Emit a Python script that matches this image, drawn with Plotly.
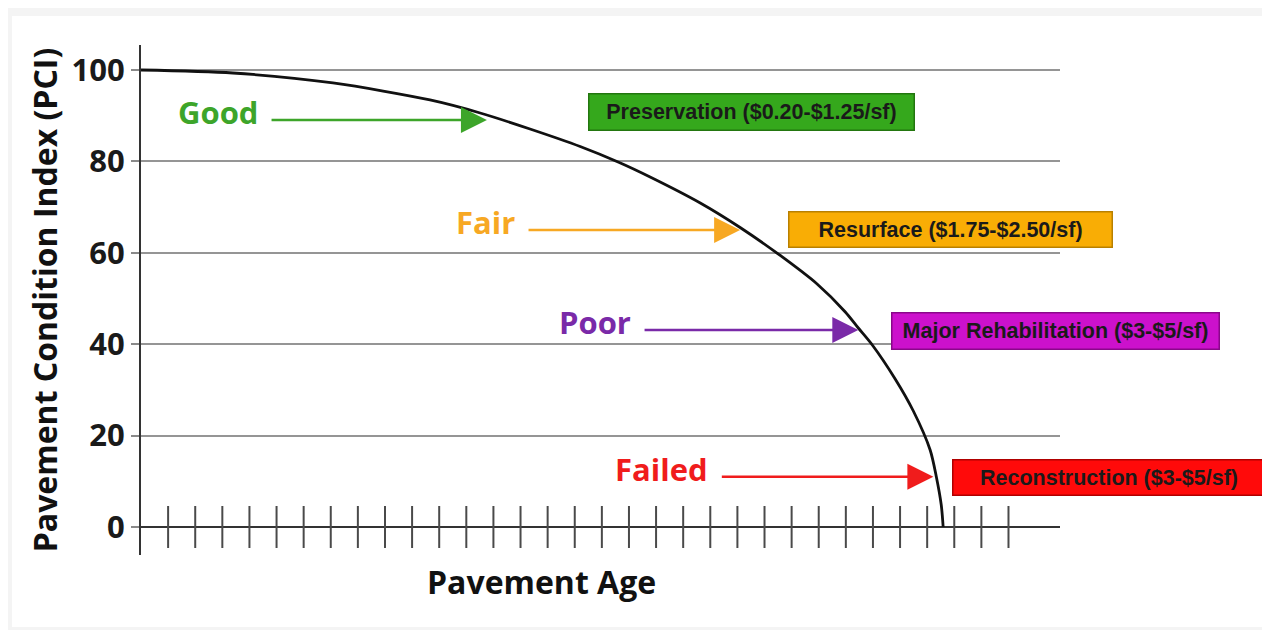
import plotly.graph_objects as go

# ---------------- data ----------------
age = [0, 3.39, 7.08, 10.66, 12.51, 14.35, 16.20, 17.60, 18.78, 20.63, 22.10,
       23.58, 24.94, 25.98, 26.46, 26.97, 27.82, 28.49, 29.11, 29.34, 29.52, 29.59]
pci = [100, 99.34, 97.16, 93.44, 90.59, 87.09, 83.26, 79.87, 76.59, 70.90, 65.54,
       59.41, 53.17, 47.05, 43.54, 39.88, 32.39, 25.38, 16.85, 10.94, 4.81, 0]

y_ticks = [0, 20, 40, 60, 80, 100]
x_ticks = list(range(1, 33))

stages = ["Good", "Fair", "Poor", "Failed"]
stage_colors = ["#3da52a", "#f7a823", "#7a2aa8", "#f01c1c"]
arrow_start_age = [4.76, 14.24, 18.52, 21.37]
arrow_tip_age = [12.76, 22.10, 26.46, 29.23]
arrow_pci = [89.06, 64.99, 43.11, 11.0]

treatments = ["Preservation ($0.20-$1.25/sf)", "Resurface ($1.75-$2.50/sf)",
              "Major Rehabilitation ($3-$5/sf)", "Reconstruction ($3-$5/sf)"]
box_fill = ["#35a81c", "#f9ad05", "#cc11cc", "#ff0a0a"]
box_edge = ["#23760f", "#b98000", "#8a078a", "#b00000"]

# ---------------- layout geometry (screen pixels) ----------------
OFF = 8                      # page body margin
W, H = 1270 - OFF, 630 - OFF
L, R, T, B = 141, 1060, 45, 555


def paper(px, py):
    return (px - L) / (R - L), (B - py) / (B - T)


# box pixel rects: left, top, right, bottom
box_px = [(588, 93, 916, 132), (788, 210, 1114, 248),
          (891, 311, 1221, 350), (952, 458, 1267, 496)]

fig = go.Figure()

# x tick marks crossing the baseline
fig.add_trace(go.Scatter(
    x=x_ticks, y=[0] * len(x_ticks), mode="markers",
    marker=dict(symbol="line-ns", size=30, line=dict(width=2, color="#4a4a4a")),
    hoverinfo="skip", showlegend=False))

# deterioration curve
fig.add_trace(go.Scatter(
    x=age, y=pci, mode="lines",
    line=dict(color="#111111", width=2.8, shape="spline", smoothing=0.8),
    hoverinfo="skip", showlegend=False))

annotations = []
for s, c, a0, a1, p in zip(stages, stage_colors, arrow_start_age, arrow_tip_age, arrow_pci):
    annotations.append(dict(
        x=a1, y=p, ax=a0, ay=p, xref="x", yref="y", axref="x", ayref="y",
        text="", showarrow=True, arrowhead=2, arrowsize=2.0, arrowwidth=2.6,
        arrowcolor=c, standoff=0))
    annotations.append(dict(
        x=a0, y=p, xref="x", yref="y", text=s, showarrow=False,
        xanchor="right", yanchor="middle", xshift=-10, yshift=8,
        font=dict(family="Open Sans", size=31, color=c, weight="bold")))

for t, f, e, (x0, y0, x1, y1) in zip(treatments, box_fill, box_edge, box_px):
    px_, py_ = paper(x0, (y0 + y1) / 2)
    annotations.append(dict(
        x=px_, y=py_, xref="paper", yref="paper", text=t, showarrow=False,
        xanchor="left", yanchor="middle", width=x1 - x0 - 4, height=y1 - y0 - 4,
        bgcolor=f, bordercolor=e, borderwidth=1.5, borderpad=0, align="center",
        font=dict(family="Liberation Sans", size=21.5, color="#1a1a1a", weight="bold")))

# x-axis title
tx, ty = paper(541, 581)
annotations.append(dict(
    x=tx, y=ty, xref="paper", yref="paper", text="Pavement Age", showarrow=False,
    xanchor="center", yanchor="middle",
    font=dict(family="Open Sans", size=32, color="#111111", weight="bold")))

# white card background
cx0, cy0 = paper(12, 16)
cx1, cy1 = paper(1262, 627)
shapes = [dict(type="rect", xref="paper", yref="paper", x0=cx0, y0=cy1, x1=cx1, y1=cy0,
               fillcolor="white", line=dict(width=0), layer="below")]

fig.update_layout(
    width=W, height=H,
    margin=dict(l=L - OFF, r=1270 - R, t=T - OFF, b=630 - B, pad=0),
    paper_bgcolor="#f4f4f4", plot_bgcolor="rgba(0,0,0,0)",
    showlegend=False,
    annotations=annotations, shapes=shapes,
    xaxis=dict(range=[0, 33.9], showgrid=False, zeroline=False, showline=False,
               showticklabels=False, ticks="", fixedrange=True),
    yaxis=dict(range=[-6.13, 105.47], tickvals=y_ticks, ticks="outside", ticklen=8,
               tickwidth=2, tickcolor="#8a8a8a",
               showgrid=True, gridcolor="#959595", gridwidth=2,
               zeroline=True, zerolinecolor="#333333", zerolinewidth=2,
               showline=True, linecolor="#333333", linewidth=2,
               tickfont=dict(family="Open Sans", size=31, color="#1a1a1a", weight="bold"),
               title=dict(text="Pavement Condition Index (PCI)", standoff=4,
                          font=dict(family="Open Sans", size=32, color="#111111", weight="bold")),
               automargin=False, fixedrange=True),
)

fig.write_html("out.html")
